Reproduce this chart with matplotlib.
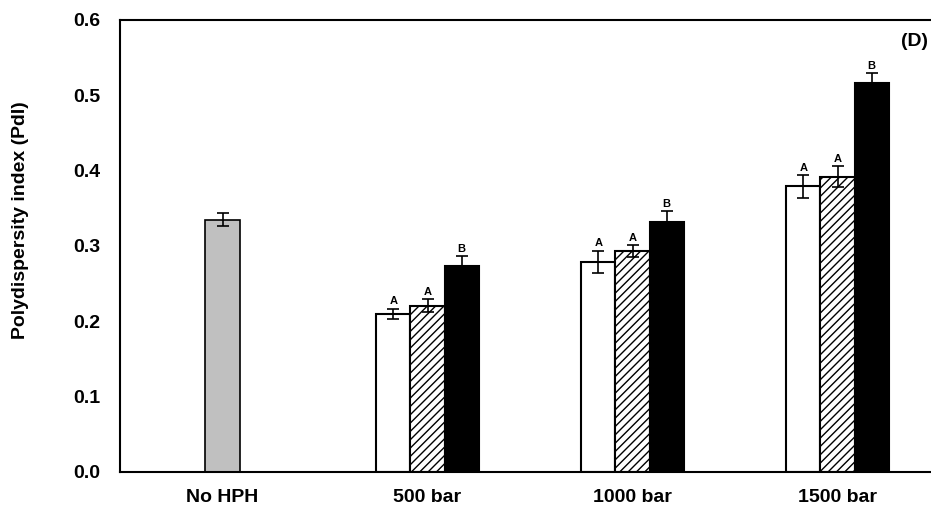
import matplotlib
matplotlib.use("Agg")
import matplotlib.pyplot as plt
import numpy as np

plt.rcParams['font.family'] = ['Liberation Sans', 'DejaVu Sans']
plt.rcParams['font.weight'] = 'bold'
plt.rcParams['hatch.linewidth'] = 1.0

categories = ["No HPH", "500 bar", "1000 bar", "1500 bar"]

# control (no homogenisation)
control_val = 0.335
control_err = 0.009

# three treatments at each pressure (white, hatched, black)
white_val = [0.210, 0.279, 0.379]
white_err = [0.007, 0.015, 0.015]
hatch_val = [0.221, 0.293, 0.392]
hatch_err = [0.009, 0.008, 0.014]
black_val = [0.274, 0.332, 0.516]
black_err = [0.013, 0.014, 0.013]

white_let = ["A", "A", "A"]
hatch_let = ["A", "A", "A"]
black_let = ["B", "B", "B"]

fig = plt.figure(figsize=(9.31, 5.12), dpi=100)
ax = fig.add_axes([120/931, 40/512, 820/931, 452/512])

w = 0.166
x = np.arange(len(categories))
xp = x[1:]

ebar = dict(ecolor='black', elinewidth=1.2, capsize=4.5, capthick=1.2)

ax.bar(x[0], control_val, w, color='#c0c0c0', edgecolor='black', linewidth=1.2,
       yerr=control_err, error_kw=ebar)
ax.bar(xp - w, white_val, w, color='white', edgecolor='black', linewidth=1.5,
       yerr=white_err, error_kw=ebar)
ax.bar(xp, hatch_val, w, color='white', edgecolor='black', linewidth=1.5,
       hatch='////', yerr=hatch_err, error_kw=ebar)
ax.bar(xp + w, black_val, w, color='black', edgecolor='black', linewidth=1.5,
       yerr=black_err, error_kw=ebar)

for off, vals, errs, lets in [(-w, white_val, white_err, white_let),
                              (0, hatch_val, hatch_err, hatch_let),
                              (w, black_val, black_err, black_let)]:
    for i in range(len(xp)):
        ax.annotate(lets[i], (xp[i] + off, vals[i] + errs[i]), xytext=(0, 1.5),
                    textcoords='offset points', ha='center', va='bottom',
                    fontsize=8, fontweight='bold')

ax.set_xlim(-0.5, 3.5)
ax.set_ylim(0, 0.6)
ax.set_yticks(np.arange(0, 0.61, 0.1))
ax.set_yticklabels([f"{v:.1f}" for v in np.arange(0, 0.61, 0.1)])
ax.set_xticks(x)
ax.set_xticklabels(categories)
ax.tick_params(axis='both', length=0, labelsize=14)
ax.tick_params(axis='y', pad=14)
ax.tick_params(axis='x', pad=12)
for s in ['left', 'top', 'bottom', 'right']:
    ax.spines[s].set_linewidth(1.5)

fig.text(21/931, 1 - 220/512, "Polydispersity index (PdI)", rotation=90,
         ha='center', va='center', fontsize=14, fontweight='bold')
fig.text(928/931, 1 - 41/512, "(D)", ha='right', va='center',
         fontsize=14, fontweight='bold')

plt.savefig("out.png", dpi=100)
